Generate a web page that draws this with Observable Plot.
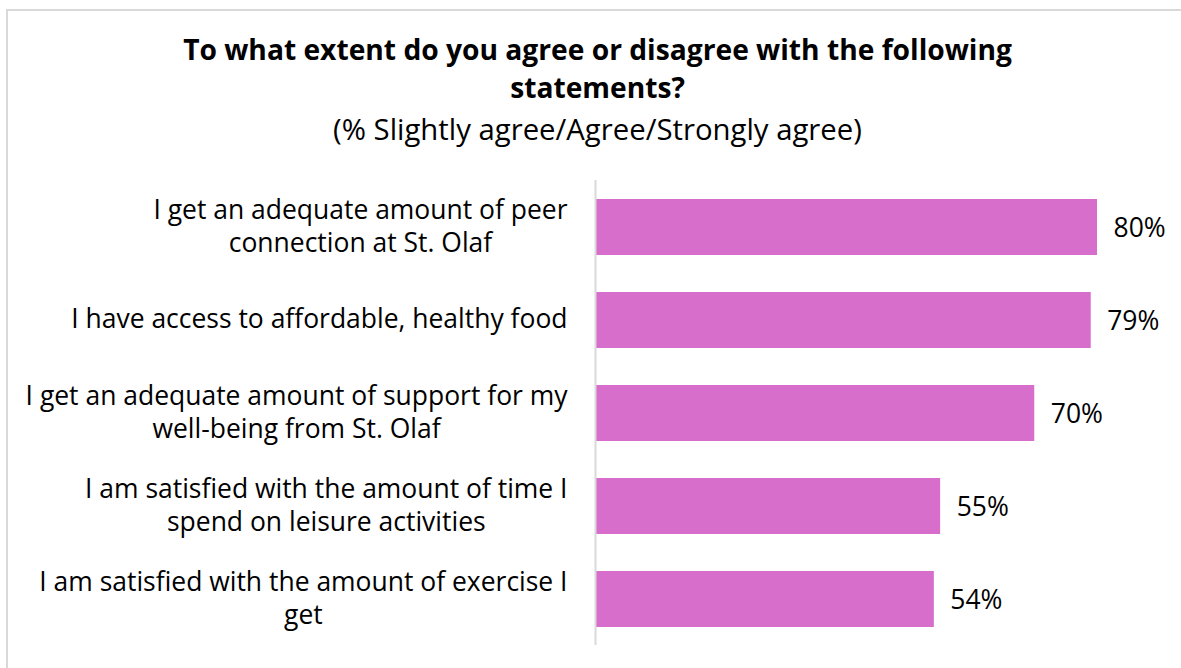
<!DOCTYPE html>
<html>
<head>
<meta charset="utf-8">
<script src="https://cdn.jsdelivr.net/npm/d3@7"></script>
<script src="https://cdn.jsdelivr.net/npm/@observablehq/plot@0.6"></script>
<style>
  html, body { margin: 0; padding: 0; background: #fff; }
  body { width: 1181px; height: 668px; position: relative; overflow: hidden; font-family: "Open Sans", "Liberation Sans", Arial, sans-serif; }
  #frame { position: absolute; left: 6px; top: 9px; width: 1200px; height: 700px; border-top: 2px solid #d9d9d9; border-left: 2px solid #d9d9d9; box-sizing: border-box; }
  #title { position: absolute; left: 0; width: 1195px; top: 30px; text-align: center; font-weight: bold; font-size: 24px; line-height: 38px; color: #000; white-space: nowrap; }
  #subtitle { position: absolute; left: 0; width: 1195px; top: 113px; text-align: center; font-size: 24px; line-height: 32px; color: #000; white-space: nowrap; }
  #chart { position: absolute; left: 0; top: 0; }
</style>
</head>
<body>
<div id="frame"></div>
<div id="title">To what extent do you agree or disagree with the following<br>statements?</div>
<div id="subtitle">(% Slightly agree/Agree/Strongly agree)</div>
<div id="chart"></div>
<script>
const titleLines = ["To what extent do you agree or disagree with the following", "statements?"];
const subtitle = "(% Slightly agree/Agree/Strongly agree)";
const labels = [
  "I get an adequate amount of peer\nconnection at St. Olaf",
  "I have access to affordable, healthy food",
  "I get an adequate amount of support for my\nwell-being from St. Olaf",
  "I am satisfied with the amount of time I\nspend on leisure activities",
  "I am satisfied with the amount of exercise I\nget"
];
const values = [80, 79, 70, 55, 54];

const data = labels.map((label, i) => ({label, value: values[i]}));

const FAMILY = '"Open Sans", "Liberation Sans", Arial, sans-serif';
const ctx = document.createElement("canvas").getContext("2d");
function fitSize(text, targetWidth, weight) {
  ctx.font = `${weight} 100px ${FAMILY}`;
  return 100 * targetWidth / ctx.measureText(text).width;
}
const titleSize = fitSize(titleLines[0], 829, "bold");
const subSize = fitSize(subtitle, 529, "normal");
const FONT_SIZE = fitSize("I get an adequate amount of support for my", 542, "normal");
document.getElementById("title").style.fontSize = titleSize + "px";
document.getElementById("subtitle").style.fontSize = subSize + "px";

ctx.font = `${FONT_SIZE}px ${FAMILY}`;
const blockWidth = (s) => Math.max(...s.split("\n").map(l => ctx.measureText(l).width));

const labelMarks = data.map(d => Plot.text([d], {
  x: () => 0,
  y: "label",
  text: "label",
  textAnchor: "middle",
  lineHeight: 33 / FONT_SIZE,
  fontSize: FONT_SIZE,
  fill: "#000",
  dx: -28 - blockWidth(d.label) / 2,
  dy: -3
}));

const chart = Plot.plot({
  width: 1181,
  height: 668,
  marginLeft: 595,
  marginRight: 84,
  marginTop: 180,
  marginBottom: 23,
  style: {fontFamily: FAMILY, background: "transparent"},
  x: {domain: [0, 80], axis: null},
  y: {domain: labels, axis: null, paddingInner: 0.4, paddingOuter: 0.2},
  marks: [
    Plot.barX(data, {x: "value", y: "label", fill: "#D86ECC"}),
    Plot.ruleX([0], {stroke: "#d9d9d9", strokeWidth: 2}),
    ...labelMarks,
    Plot.text(data, {x: "value", y: "label", text: d => d.value + "%", textAnchor: "start", dx: 16, dy: 1, fontSize: FONT_SIZE, fill: "#000"})
  ]
});
document.getElementById("chart").appendChild(chart);
</script>
</body>
</html>
